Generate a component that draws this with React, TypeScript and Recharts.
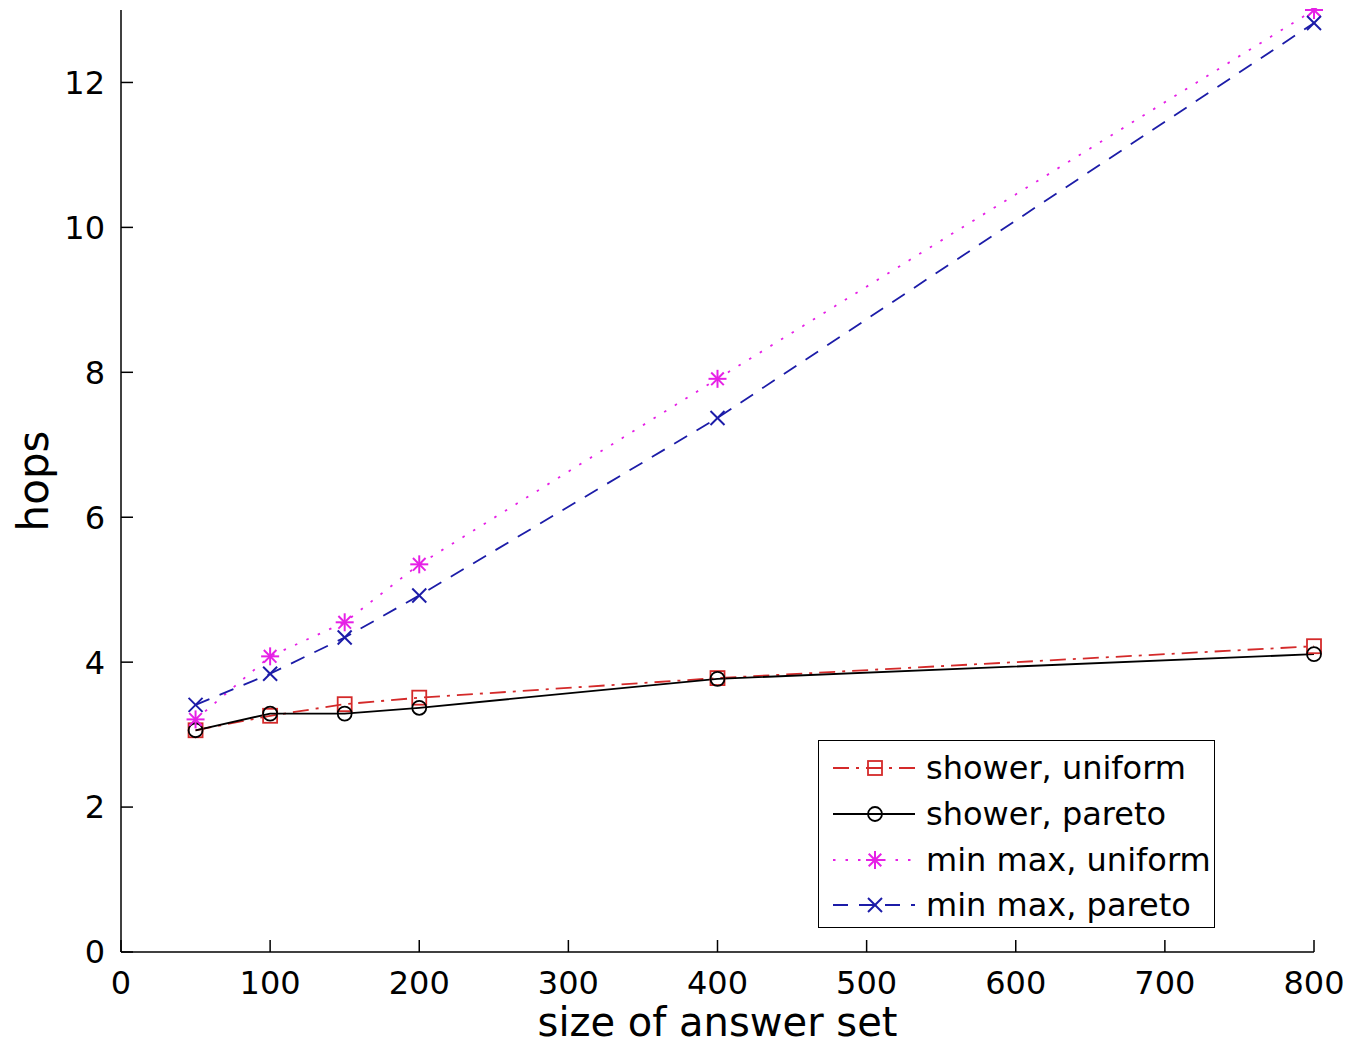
import React from 'react';
import { LineChart, Line, XAxis, YAxis } from 'recharts';

const xValues = [50, 100, 150, 200, 400, 800];
const showerUniform = [3.06, 3.26, 3.42, 3.51, 3.78, 4.22];
const showerPareto = [3.06, 3.29, 3.29, 3.37, 3.77, 4.11];
const minmaxUniform = [3.21, 4.08, 4.55, 5.35, 7.91, 13.0];
const minmaxPareto = [3.41, 3.84, 4.34, 4.92, 7.37, 12.82];
const xTicks = [0, 100, 200, 300, 400, 500, 600, 700, 800];
const yTicks = [0, 2, 4, 6, 8, 10, 12];

const data = xValues.map((x, i) => ({
  x,
  su: showerUniform[i],
  sp: showerPareto[i],
  mu: minmaxUniform[i],
  mp: minmaxPareto[i],
}));

const RED = '#d42a2a';
const BLACK = '#000000';
const MAGENTA = '#e620e6';
const BLUE = '#1c1ca8';
const FONT = 'DejaVu Sans';

type MarkerKind = 'square' | 'circle' | 'star' | 'x';

const Marker = ({ cx, cy, kind, color }: { cx: number; cy: number; kind: MarkerKind; color: string }) => {
  if (cx == null || cy == null) return null;
  if (kind === 'square') {
    return <rect x={cx - 7} y={cy - 7} width={14} height={14} fill="none" stroke={color} strokeWidth={1.8} />;
  }
  if (kind === 'circle') {
    return <circle cx={cx} cy={cy} r={7} fill="none" stroke={color} strokeWidth={1.8} />;
  }
  if (kind === 'star') {
    const r = 9;
    const d = r * 0.7;
    return (
      <g stroke={color} strokeWidth={2}>
        <line x1={cx - r} y1={cy} x2={cx + r} y2={cy} />
        <line x1={cx} y1={cy - r} x2={cx} y2={cy + r} />
        <line x1={cx - d} y1={cy - d} x2={cx + d} y2={cy + d} />
        <line x1={cx - d} y1={cy + d} x2={cx + d} y2={cy - d} />
      </g>
    );
  }
  const r = 7;
  return (
    <g stroke={color} strokeWidth={2}>
      <line x1={cx - r} y1={cy - r} x2={cx + r} y2={cy + r} />
      <line x1={cx - r} y1={cy + r} x2={cx + r} y2={cy - r} />
    </g>
  );
};

const series = [
  { key: 'su', name: 'shower, uniform', color: RED, dash: '16 7 3 7', kind: 'square' as MarkerKind },
  { key: 'sp', name: 'shower, pareto', color: BLACK, dash: undefined, kind: 'circle' as MarkerKind },
  { key: 'mu', name: 'min max, uniform', color: MAGENTA, dash: '2.5 10', kind: 'star' as MarkerKind },
  { key: 'mp', name: 'min max, pareto', color: BLUE, dash: '15 11', kind: 'x' as MarkerKind },
];

const LegendBox = () => {
  const rowsY = [27, 73, 119, 164];
  return (
    <div
      style={{
        position: 'absolute',
        left: 810,
        top: 732,
        width: 395,
        height: 186,
        border: '1.5px solid #000',
        background: '#fff',
      }}
    >
      <svg width={395} height={186} style={{ display: 'block' }}>
        {series.map((s, i) => (
          <g key={s.key}>
            <line x1={14} y1={rowsY[i]} x2={96} y2={rowsY[i]} stroke={s.color} strokeWidth={1.8} strokeDasharray={s.dash} />
            <Marker cx={56} cy={rowsY[i]} kind={s.kind} color={s.color} />
            <text x={107} y={rowsY[i]} dominantBaseline="central" fontFamily={FONT} fontSize={32} fill="#000">
              {s.name}
            </text>
          </g>
        ))}
      </svg>
    </div>
  );
};

export default function App() {
  return (
    <div style={{ position: 'relative', width: 1343, height: 1039, background: '#fff' }}>
      <LineChart width={1343} height={1039} data={data} margin={{ top: 2, right: 37, left: 0, bottom: 0 }}>
        <XAxis
          dataKey="x"
          type="number"
          domain={[0, 800]}
          ticks={xTicks}
          interval={0}
          height={95}
          stroke="#000"
          axisLine={{ stroke: '#000', strokeWidth: 1.5 }}
          tickLine={{ stroke: '#000', strokeWidth: 1.5 }}
          tickSize={-12}
          tickMargin={31}
          tick={{ fontFamily: FONT, fontSize: 32, fill: '#000' }}
          label={{
            content: (props: any) => {
              const vb = props.viewBox;
              return (
                <text
                  x={vb.x + vb.width / 2}
                  y={vb.y + 70}
                  textAnchor="middle"
                  dominantBaseline="central"
                  fontFamily={FONT}
                  fontSize={40}
                  fill="#000"
                >
                  size of answer set
                </text>
              );
            },
          }}
        />
        <YAxis
          type="number"
          domain={[0, 13]}
          ticks={yTicks}
          interval={0}
          width={113}
          stroke="#000"
          axisLine={{ stroke: '#000', strokeWidth: 1.5 }}
          tickLine={{ stroke: '#000', strokeWidth: 1.5 }}
          tickSize={-12}
          tickMargin={28}
          tick={{ fontFamily: FONT, fontSize: 32, fill: '#000' }}
          label={{
            content: (props: any) => {
              const vb = props.viewBox;
              const cx = vb.x + 25;
              const cy = vb.y + vb.height / 2;
              return (
                <text
                  x={cx}
                  y={cy}
                  transform={`rotate(-90, ${cx}, ${cy})`}
                  textAnchor="middle"
                  dominantBaseline="central"
                  fontFamily={FONT}
                  fontSize={42}
                  fill="#000"
                >
                  hops
                </text>
              );
            },
          }}
        />
        {series.map((s) => (
          <Line
            key={s.key}
            dataKey={s.key}
            name={s.name}
            type="linear"
            stroke={s.color}
            strokeWidth={1.8}
            strokeDasharray={s.dash}
            isAnimationActive={false}
            dot={(p: any) => <Marker key={`${s.key}-${p.index}`} cx={p.cx} cy={p.cy} kind={s.kind} color={s.color} />}
            activeDot={false}
          />
        ))}
      </LineChart>
      <LegendBox />
    </div>
  );
}
